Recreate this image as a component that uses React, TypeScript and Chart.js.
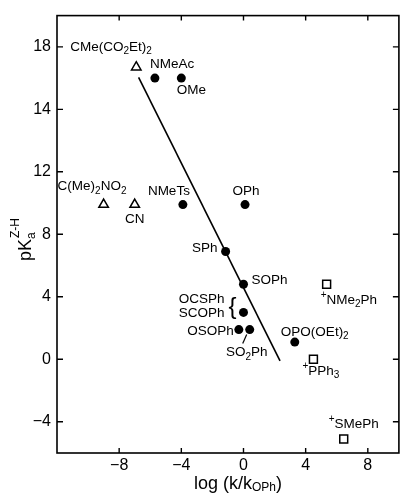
import React, { useEffect, useRef } from "react";
import { Chart, registerables } from "chart.js";

Chart.register(...registerables);

// ---- data (x = log(k/k_OPh), y = pKa^(Z-H)) ----
const triangleNames = ["CMe(CO_2Et)_2", "C(Me)_2NO_2", "CN"];
const triangleX = [-6.9, -9.0, -7.0];
const triangleY = [18.7, 9.9, 9.9];

const circleNames = ["NMeAc", "OMe", "NMeTs", "OPh", "SPh", "SOPh", "SCOPh", "OSOPh", "SO_2Ph", "OPO(OEt)_2"];
const circleX = [-5.7, -4.0, -3.9, 0.1, -1.15, 0.0, 0.0, -0.3, 0.4, 3.3];
const circleY = [18.0, 18.0, 9.9, 9.9, 6.9, 4.8, 3.0, 1.9, 1.9, 1.1];

const squareNames = ["^+NMe_2Ph", "^+PPh_3", "^+SMePh"];
const squareX = [5.35, 4.5, 6.45];
const squareY = [4.8, 0.0, -5.1];

const extraName = "OCSPh"; // shares the SCOPh point

const fitX = [-6.75, 2.35];
const fitY = [18.05, -0.1];

const xTicks = [-8, -4, 0, 4, 8];
const xTickLabels = ["−8", "−4", "0", "4", "8"];
const yTicks = [-4, 0, 4, 8, 12, 16, 20];
const yTickLabels = ["−4", "0", "4", "8", "12", "14", "18"];

// ---- label layout (pixel offsets from the marker) ----
type Lay = { set: number; idx: number; text: string; dx: number; dy: number; align: "left" | "right" | "center" };
const labelLayout: Lay[] = [
  { set: 0, idx: 0, text: triangleNames[0], dx: -66, dy: -20, align: "left" },
  { set: 0, idx: 1, text: triangleNames[1], dx: -46, dy: -18, align: "left" },
  { set: 0, idx: 2, text: triangleNames[2], dx: 0, dy: 15, align: "center" },
  { set: 1, idx: 0, text: circleNames[0], dx: -5, dy: -14, align: "left" },
  { set: 1, idx: 1, text: circleNames[1], dx: 10, dy: 12, align: "center" },
  { set: 1, idx: 2, text: circleNames[2], dx: -14, dy: -13, align: "center" },
  { set: 1, idx: 3, text: circleNames[3], dx: 1, dy: -13, align: "center" },
  { set: 1, idx: 4, text: circleNames[4], dx: -8, dy: -3, align: "right" },
  { set: 1, idx: 5, text: circleNames[5], dx: 8, dy: -4, align: "left" },
  { set: 1, idx: 6, text: extraName, dx: -19, dy: -13, align: "right" },
  { set: 1, idx: 6, text: circleNames[6], dx: -19, dy: 1, align: "right" },
  { set: 1, idx: 7, text: circleNames[7], dx: -5, dy: 1.5, align: "right" },
  { set: 1, idx: 8, text: circleNames[8], dx: -3, dy: 23, align: "center" },
  { set: 1, idx: 9, text: circleNames[9], dx: 20, dy: -10, align: "center" },
  { set: 2, idx: 0, text: squareNames[0], dx: -6, dy: 16, align: "left" },
  { set: 2, idx: 1, text: squareNames[1], dx: -11, dy: 12, align: "left" },
  { set: 2, idx: 2, text: squareNames[2], dx: -15, dy: -15, align: "left" },
];

const FONT = '"Liberation Sans", Arial, sans-serif';

function parseRich(s: string) {
  const segs: { t: string; k: number }[] = [];
  let i = 0;
  while (i < s.length) {
    const c = s[i];
    if (c === "_" || c === "^") {
      segs.push({ t: s[i + 1], k: c === "_" ? 1 : -1 });
      i += 2;
    } else {
      let j = i;
      while (j < s.length && s[j] !== "_" && s[j] !== "^") j++;
      segs.push({ t: s.slice(i, j), k: 0 });
      i = j;
    }
  }
  return segs;
}

function drawRich(ctx: CanvasRenderingContext2D, s: string, x: number, y: number, align: string, size: number) {
  const segs = parseRich(s);
  const big = `${size}px ${FONT}`;
  const small = `${Math.round(size * 0.72)}px ${FONT}`;
  let w = 0;
  const ws: number[] = [];
  for (const seg of segs) {
    ctx.font = seg.k ? small : big;
    const m = ctx.measureText(seg.t).width;
    ws.push(m);
    w += m;
  }
  let cx = align === "left" ? x : align === "right" ? x - w : x - w / 2;
  ctx.textAlign = "left";
  ctx.textBaseline = "middle";
  segs.forEach((seg, k) => {
    ctx.font = seg.k ? small : big;
    const off = seg.k === 1 ? size * 0.32 : seg.k === -1 ? -size * 0.38 : 0;
    ctx.fillText(seg.t, cx, y + off);
    cx += ws[k];
  });
}

const decorPlugin = {
  id: "decor",
  afterDraw(chart: any) {
    const ctx: CanvasRenderingContext2D = chart.ctx;
    const { left, right, top, bottom } = chart.chartArea;
    const xs = chart.scales.x;
    const ys = chart.scales.y;
    ctx.save();
    ctx.strokeStyle = "#000";
    ctx.fillStyle = "#000";
    ctx.lineWidth = 1.6;
    ctx.strokeRect(left, top, right - left, bottom - top);
    ctx.lineWidth = 1.4;
    ctx.beginPath();
    for (const v of xTicks) {
      const px = xs.getPixelForValue(v);
      ctx.moveTo(px, bottom);
      ctx.lineTo(px, bottom - 5);
      ctx.moveTo(px, top);
      ctx.lineTo(px, top + 5);
    }
    for (const v of yTicks) {
      const py = ys.getPixelForValue(v);
      ctx.moveTo(left, py);
      ctx.lineTo(left + 6, py);
      ctx.moveTo(right, py);
      ctx.lineTo(right - 6, py);
    }
    ctx.stroke();

    // point labels
    for (const L of labelLayout) {
      const el = chart.getDatasetMeta(L.set).data[L.idx];
      drawRich(ctx, L.text, el.x + L.dx, el.y + L.dy, L.align, 13.5);
    }
    // brace for OCSPh / SCOPh
    const sc = chart.getDatasetMeta(1).data[6];
    ctx.font = `24px ${FONT}`;
    ctx.textAlign = "center";
    ctx.textBaseline = "middle";
    ctx.fillText("{", sc.x - 11, sc.y - 5);
    // leader for SO2Ph
    const so2 = chart.getDatasetMeta(1).data[8];
    ctx.lineWidth = 1.2;
    ctx.beginPath();
    ctx.moveTo(so2.x - 3, so2.y + 5);
    ctx.lineTo(so2.x - 7, so2.y + 14);
    ctx.stroke();

    // x title
    const xc = (left + right) / 2 + 10;
    const xy = bottom + 36;
    ctx.textBaseline = "alphabetic";
    ctx.textAlign = "left";
    ctx.font = `18px ${FONT}`;
    const t1 = "log (k/k";
    const w1 = ctx.measureText(t1).width;
    ctx.font = `12px ${FONT}`;
    const w2 = ctx.measureText("OPh").width;
    ctx.font = `18px ${FONT}`;
    const w3 = ctx.measureText(")").width;
    const sx = xc - (w1 + w2 + w3) / 2;
    ctx.fillText(t1, sx, xy);
    ctx.font = `12px ${FONT}`;
    ctx.fillText("OPh", sx + w1, xy + 2);
    ctx.font = `18px ${FONT}`;
    ctx.fillText(")", sx + w1 + w2, xy);

    // y title
    ctx.save();
    ctx.translate(31, 261);
    ctx.rotate(-Math.PI / 2);
    ctx.font = `18px ${FONT}`;
    ctx.fillText("pK", 0, 0);
    const wp = ctx.measureText("pK").width;
    ctx.font = `12px ${FONT}`;
    ctx.fillText("a", wp, 4);
    ctx.font = `12px ${FONT}`;
    ctx.fillText("Z-H", wp + 1, -12);
    ctx.restore();

    ctx.restore();
  },
};

function pts(xs: number[], ys: number[]) {
  return xs.map((x, i) => ({ x, y: ys[i] }));
}

export default function App() {
  const ref = useRef<HTMLCanvasElement>(null);
  useEffect(() => {
    const chart = new Chart(ref.current!, {
      type: "scatter",
      data: {
        datasets: [
          {
            label: "triangles",
            data: pts(triangleX, triangleY),
            pointStyle: "triangle",
            pointRadius: 5.5,
            backgroundColor: "#fff",
            borderColor: "#000",
            borderWidth: 1.5,
          },
          {
            label: "circles",
            data: pts(circleX, circleY),
            pointStyle: "circle",
            pointRadius: 4.5,
            backgroundColor: "#000",
            borderColor: "#000",
            borderWidth: 0,
          },
          {
            label: "squares",
            data: pts(squareX, squareY),
            pointStyle: "rect",
            pointRadius: 5.6,
            backgroundColor: "#fff",
            borderColor: "#000",
            borderWidth: 1.5,
          },
          {
            label: "fit",
            type: "line",
            data: pts(fitX, fitY),
            showLine: true,
            pointRadius: 0,
            borderColor: "#000",
            borderWidth: 1.6,
          } as any,
        ],
      },
      options: {
        animation: false,
        responsive: true,
        maintainAspectRatio: false,
        events: [],
        layout: { padding: { top: 12, right: 2, left: 0, bottom: 0 } },
        plugins: { legend: { display: false }, tooltip: { enabled: false } },
        scales: {
          x: {
            type: "linear",
            min: -12,
            max: 10,
            grid: { display: false, drawTicks: false },
            border: { display: false },
            afterBuildTicks: (s: any) => {
              s.ticks = xTicks.map((v) => ({ value: v }));
            },
            afterFit: (s: any) => {
              s.height = 43;
            },
            ticks: {
              padding: 3,
              color: "#000",
              font: { family: FONT, size: 16 },
              maxRotation: 0,
              callback: (v: any) => xTickLabels[xTicks.indexOf(Number(v))] ?? "",
            },
          },
          y: {
            type: "linear",
            min: -6,
            max: 22,
            grid: { display: false, drawTicks: false },
            border: { display: false },
            afterBuildTicks: (s: any) => {
              s.ticks = yTicks.map((v) => ({ value: v }));
            },
            afterFit: (s: any) => {
              s.width = 57;
            },
            ticks: {
              padding: 6,
              color: "#000",
              font: { family: FONT, size: 16 },
              callback: (v: any) => yTickLabels[yTicks.indexOf(Number(v))] ?? "",
            },
          },
        },
      },
      plugins: [decorPlugin],
    });
    return () => chart.destroy();
  }, []);
  return (
    <div style={{ position: "absolute", left: 0, top: 0, width: 406, height: 496, background: "#fff" }}>
      <canvas ref={ref} />
    </div>
  );
}
